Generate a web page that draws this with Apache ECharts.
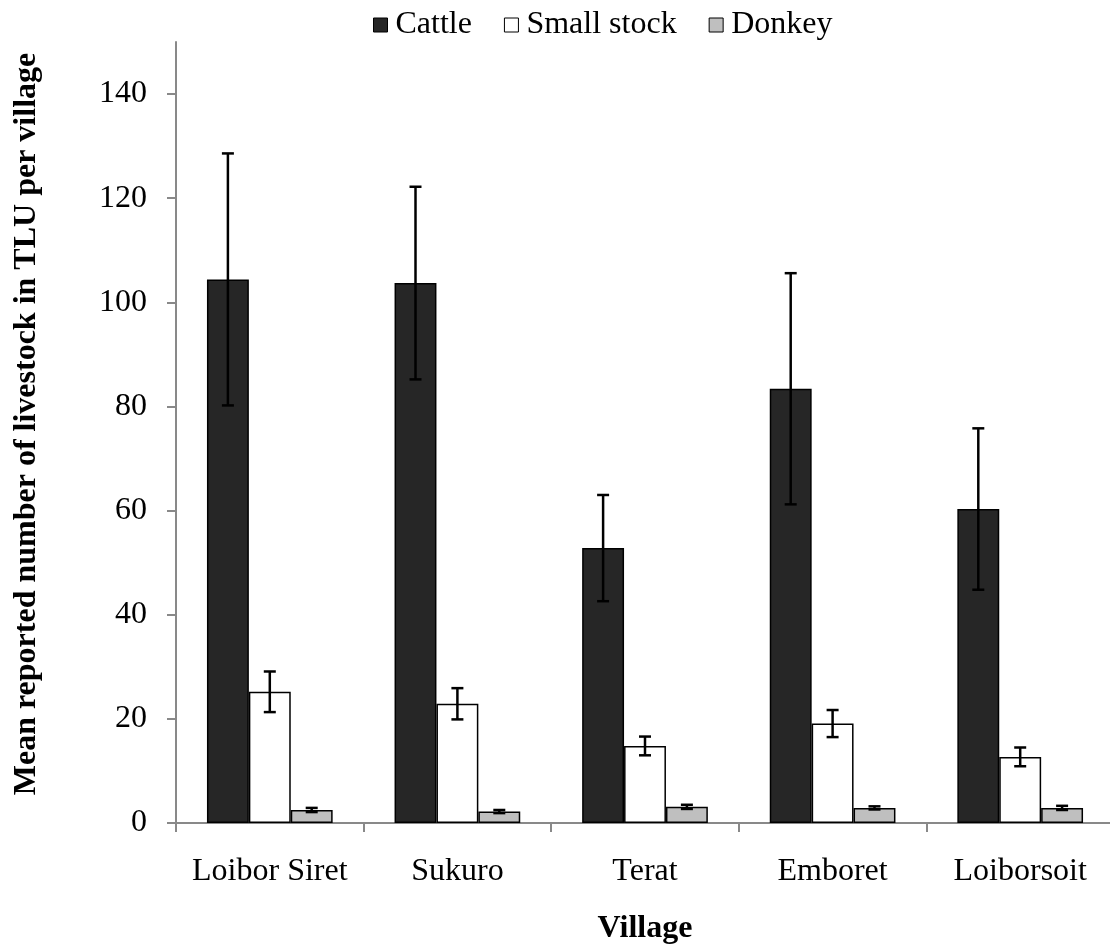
<!DOCTYPE html>
<html>
<head>
<meta charset="utf-8">
<script src="https://cdn.jsdelivr.net/npm/echarts@6/dist/echarts.min.js"></script>
<style>
  html, body { margin: 0; padding: 0; background: #fff; }
  #chart { width: 1110px; height: 946px; }
</style>
</head>
<body>
<div id="chart"></div>
<script>
// Villages and livestock holdings (mean TLU per village, with error bar half-widths)
const villages = ['Loibor Siret', 'Sukuro', 'Terat', 'Emboret', 'Loiborsoit'];
const seriesNames = ['Cattle', 'Small stock', 'Donkey'];
const cattleMean = [104.4, 103.7, 52.8, 83.4, 60.3];
const cattleErr = [24.2, 18.5, 10.2, 22.2, 15.5];
const smallMean = [25.2, 22.9, 14.8, 19.1, 12.7];
const smallErr = [3.9, 3.0, 1.8, 2.6, 1.8];
const donkeyMean = [2.5, 2.2, 3.1, 2.9, 2.9];
const donkeyErr = [0.4, 0.3, 0.4, 0.3, 0.4];
const yTicks = [0, 20, 40, 60, 80, 100, 120, 140];

const FONT = "'Liberation Serif', 'Times New Roman', serif";
const fills = ['#262626', '#ffffff', '#bfbfbf'];
const CAT_GAP = 0.33;

const means = [cattleMean, smallMean, donkeyMean];
const errs = [cattleErr, smallErr, donkeyErr];

// rows for the error-bar layer: [category index, series index, low, high]
const errRows = [];
means.forEach((m, s) => {
  m.forEach((v, i) => {
    errRows.push([i, s, v - errs[s][i], v + errs[s][i]]);
  });
});

const chart = echarts.init(document.getElementById('chart'), null, { renderer: 'canvas' });

function renderErrorBar(params, api) {
  const cat = api.value(0);
  const s = api.value(1);
  const lo = api.value(2);
  const hi = api.value(3);
  const catW = api.size([1, 0])[0];
  const barW = catW * (1 - CAT_GAP) / 3;
  const cx = api.coord([cat, 0])[0] + (s - 1) * barW;
  const yLo = api.coord([cat, lo])[1];
  const yHi = api.coord([cat, hi])[1];
  const half = 6;
  const style = { stroke: '#000', lineWidth: 2.5 };
  return {
    type: 'group',
    children: [
      { type: 'line', shape: { x1: cx, y1: yLo, x2: cx, y2: yHi }, style },
      { type: 'line', shape: { x1: cx - half, y1: yHi, x2: cx + half, y2: yHi }, style },
      { type: 'line', shape: { x1: cx - half, y1: yLo, x2: cx + half, y2: yLo }, style }
    ]
  };
}

const barSeries = seriesNames.map((name, s) => ({
  name,
  type: 'bar',
  data: means[s],
  barGap: '0%',
  barCategoryGap: (CAT_GAP * 100) + '%',
  itemStyle: { color: fills[s], borderColor: '#000', borderWidth: 1.5 },
  emphasis: { disabled: true },
  animation: false
}));

const option = {
  backgroundColor: '#fff',
  animation: false,
  textStyle: { fontFamily: FONT },
  legend: {
    data: seriesNames,
    left: 368,
    top: 4,
    icon: 'rect',
    itemWidth: 14,
    itemHeight: 14,
    itemGap: 32,
    itemStyle: { borderColor: '#000', borderWidth: 1 },
    textStyle: { fontFamily: FONT, fontSize: 32, color: '#000', padding: [0, 0, 0, 3] }
  },
  grid: {
    left: 176,
    right: -4,
    top: 42,
    bottom: 123,
    outerBoundsMode: 'none',
    containLabel: false
  },
  xAxis: {
    type: 'category',
    data: villages,
    name: 'Village',
    nameLocation: 'middle',
    nameGap: 90,
    nameTextStyle: { fontFamily: FONT, fontSize: 32, fontWeight: 'bold', color: '#000' },
    axisLine: { lineStyle: { color: '#898989', width: 2 } },
    axisTick: { show: true, interval: 0, alignWithLabel: false, length: 9, lineStyle: { color: '#898989', width: 2 } },
    axisLabel: { interval: 0, fontFamily: FONT, fontSize: 32, color: '#000', margin: 33 },
    splitLine: { show: false }
  },
  yAxis: {
    type: 'value',
    min: 0,
    max: 150,
    interval: 20,
    name: 'Mean reported number of livestock in TLU per village',
    nameLocation: 'middle',
    nameGap: 133,
    nameRotate: 90,
    nameTextStyle: { fontFamily: FONT, fontSize: 32, fontWeight: 'bold', color: '#000', padding: [0, 0, 0, 17] },
    axisLine: { show: true, lineStyle: { color: '#898989', width: 2 } },
    axisTick: { show: true, length: 9, customValues: yTicks, lineStyle: { color: '#898989', width: 2 } },
    axisLabel: { fontFamily: FONT, fontSize: 32, color: '#000', margin: 29, customValues: yTicks },
    splitLine: { show: false }
  },
  series: [
    ...barSeries,
    {
      name: 'error',
      type: 'custom',
      data: errRows,
      renderItem: renderErrorBar,
      encode: { x: 0, y: [2, 3] },
      z: 10,
      silent: true,
      clip: false,
      animation: false
    }
  ]
};

chart.setOption(option);
</script>
</body>
</html>
